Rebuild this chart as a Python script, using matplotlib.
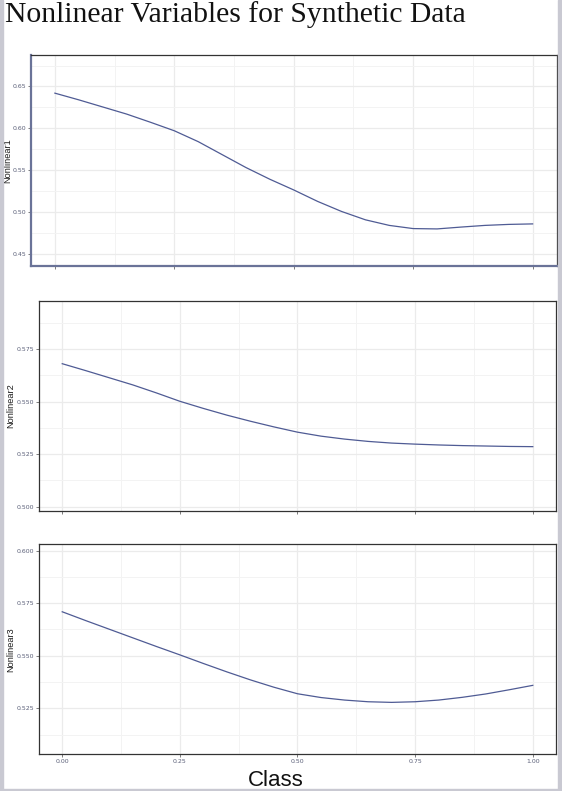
import matplotlib
matplotlib.use("Agg")
import matplotlib.pyplot as plt
from matplotlib.patches import Rectangle
from matplotlib.ticker import MultipleLocator

# ---- data ----
class_x = [0.00, 0.05, 0.10, 0.15, 0.20, 0.25, 0.30, 0.35, 0.40, 0.45, 0.50,
           0.55, 0.60, 0.65, 0.70, 0.75, 0.80, 0.85, 0.90, 0.95, 1.00]
nonlinear1 = [0.6420, 0.6340, 0.6255, 0.6170, 0.6072, 0.5970, 0.5840, 0.5685,
              0.5530, 0.5390, 0.5262, 0.5125, 0.5005, 0.4905, 0.4838, 0.4800,
              0.4796, 0.4818, 0.4838, 0.4850, 0.4856]
nonlinear2 = [0.5681, 0.5648, 0.5614, 0.5580, 0.5542, 0.5502, 0.5468, 0.5436,
              0.5407, 0.5380, 0.5355, 0.5336, 0.5322, 0.5311, 0.5303, 0.5298,
              0.5294, 0.5291, 0.5289, 0.5287, 0.5286]
nonlinear3 = [0.5709, 0.5667, 0.5626, 0.5585, 0.5544, 0.5504, 0.5463, 0.5423,
              0.5385, 0.5350, 0.5319, 0.5301, 0.5289, 0.5281, 0.5278, 0.5281,
              0.5289, 0.5302, 0.5318, 0.5338, 0.5359]
series_names = ["Nonlinear1", "Nonlinear2", "Nonlinear3"]
x_ticks = [0.00, 0.25, 0.50, 0.75, 1.00]
x_ticklabels = ["0.00", "0.25", "0.50", "0.75", "1.00"]
y_ticks1 = [0.45, 0.50, 0.55, 0.60, 0.65]
y_ticks2 = [0.500, 0.525, 0.550, 0.575]
y_ticks3 = [0.525, 0.550, 0.575, 0.600]
title = "Nonlinear Variables for Synthetic Data"
xlabel = "Class"

W, H = 562, 791
fig = plt.figure(figsize=(W / 100, H / 100), dpi=100)
fig.patch.set_facecolor("white")

def frac(left, top, right, bottom):
    return [left / W, 1 - bottom / H, (right - left) / W, (bottom - top) / H]

line_color = "#4f5b94"
tick_color = "#5a5f78"
grid_major = "#ebebeb"
grid_minor = "#f3f3f3"

panels = [
    dict(rect=frac(31, 54.7, 556.5, 265.7), y=nonlinear1, ticks=y_ticks1,
         ylim=(0.4356, 0.688), minor=0.025, fmt="{:.2f}", labelx=-0.0355, showx=False),
    dict(rect=frac(38.7, 300.7, 556.3, 510.7), y=nonlinear2, ticks=y_ticks2,
         ylim=(0.4981, 0.5981), minor=0.0125, fmt="{:.3f}", labelx=-0.046, showx=False),
    dict(rect=frac(38.7, 544.3, 556.3, 754.3), y=nonlinear3, ticks=y_ticks3,
         ylim=(0.5031, 0.6030), minor=0.0125, fmt="{:.3f}", labelx=-0.046, showx=True),
]

for i, p in enumerate(panels):
    ax = fig.add_axes(p["rect"])
    ax.set_facecolor("white")
    ax.plot(class_x, p["y"], color=line_color, lw=0.9, zorder=3)
    ax.set_xlim(-0.05, 1.05)
    ax.set_ylim(*p["ylim"])
    ax.set_xticks(x_ticks)
    ax.xaxis.set_minor_locator(MultipleLocator(0.125))
    ax.set_yticks(p["ticks"])
    ax.yaxis.set_minor_locator(MultipleLocator(p["minor"]))
    ax.set_yticklabels([p["fmt"].format(t) for t in p["ticks"]])
    if p["showx"]:
        ax.set_xticklabels(x_ticklabels)
    else:
        ax.set_xticklabels([])
    ax.grid(which="major", color=grid_major, lw=0.9, zorder=0)
    ax.grid(which="minor", color=grid_minor, lw=0.7, zorder=0)
    ax.set_axisbelow(True)
    ax.tick_params(which="major", length=2, width=0.6, color="#666666",
                   labelsize=4.5, labelcolor=tick_color, pad=1.5)
    ax.tick_params(which="minor", length=0)
    for s in ax.spines.values():
        s.set_color("#333333")
        s.set_linewidth(0.9)
    if i == 0:
        ax.spines["left"].set_color("#6a7398")
        ax.spines["left"].set_linewidth(1.6)
        ax.spines["bottom"].set_color("#6a7398")
        ax.spines["bottom"].set_linewidth(1.6)
    ax.set_ylabel(series_names[i], fontsize=6.6, color="#1a1a1a",
                  family=["Liberation Sans Narrow", "Liberation Sans", "DejaVu Sans"])
    ax.yaxis.set_label_coords(p["labelx"], 0.5)

fig.text(5 / W, 1 - 22 / H, title, fontsize=21.3, family=["Liberation Serif", "DejaVu Serif"],
         color="#111111", ha="left", va="baseline")
fig.text(276 / W, 1 - 786 / H, xlabel, fontsize=16, family=["Liberation Sans", "DejaVu Sans"],
         color="#111111", ha="center", va="baseline")

# light grey frame of the screenshot
border = "#c9c9d2"
fig.patches.append(Rectangle((0, 0), 3 / W, 1, transform=fig.transFigure, color=border, zorder=10))
fig.patches.append(Rectangle((1 - 4 / W, 0), 4 / W, 1, transform=fig.transFigure, color=border, zorder=10))
fig.patches.append(Rectangle((0, 0), 1, 2.5 / H, transform=fig.transFigure, color=border, zorder=10))

fig.savefig("out.png", dpi=100)
